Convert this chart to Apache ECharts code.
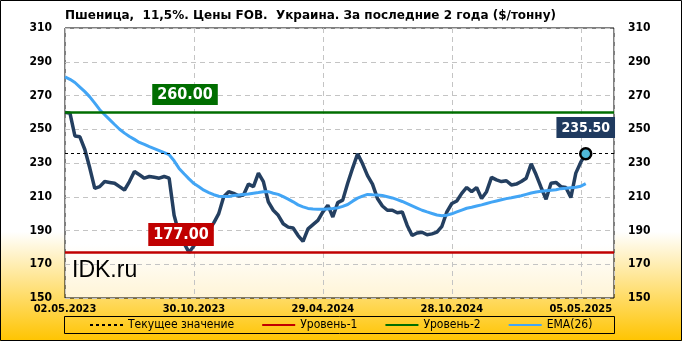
<!DOCTYPE html>
<html><head><meta charset="utf-8">
<script src="https://cdn.jsdelivr.net/npm/echarts@6/dist/echarts.min.js"></script>
<style>html,body{margin:0;padding:0;background:#fff}#c{width:682px;height:341px}</style>
</head><body><div id="c"></div>
<script>
const titleText = 'Пшеница,  11,5%. Цены FOB.  Украина. За последние 2 года ($/тонну)';
const tickLabels = ['02.05.2023','30.10.2023','29.04.2024','28.10.2024','05.05.2025'];
const tickStep = 26;
const price = [260,259.5,246,245.5,238,227,215,216,219,218.5,218,216,214,219,225,223,221,222,221.5,221,222,221,199,188,182.5,177,181,185,188,190,194.5,200,210,213,212,210.5,211,217.5,216,224,219,207,202,199,194,192,191.5,187,183.5,191,193.5,196,201,205,198,206.5,208,218,227,235.5,229.5,222.5,217.5,209,204.5,202,202,200.5,201,193,187,188.5,189,187.5,188,189,192.5,201,206,207.5,212,215.5,213,215.5,209,213,221.5,220,219,219.5,217,217.5,219,221,229.5,223,215.5,208.5,218,218.5,216,215.5,209.5,224,230.5,235.5];
const ema = [281,279.6,277.7,275,272.3,269.2,265.5,261.6,258.6,255.7,252.8,250,247.7,245.7,244,242.2,241,239.7,238.5,237.3,236.1,234.9,231.3,226.8,223.6,220.6,217.8,215.9,213.9,212.5,211.2,210.3,210.1,210.2,210.7,211,211.3,211.6,212.1,212.5,213,213,212.1,211.4,210.1,208.6,207,205.2,204,203.1,202.7,202.6,202.6,202.8,203,203.4,204.3,205.4,207.4,209.2,210.4,211.4,211.2,211.1,210.7,210,209.3,208.3,207.2,205.9,204.6,203.3,202,201,200.1,199.2,198.7,199.1,199.9,201,202.1,203.2,203.8,204.5,205.2,206,206.8,207.5,208.2,208.9,209.4,210,210.6,211.4,212.2,212.8,213.2,213.6,213.9,214.2,214.8,215,215.3,215.6,216.2,217.8];
const level1 = 177;
const level2 = 260;
const currentValue = price[price.length - 1];
const labelIdx1 = 23.4, labelIdx2 = 24.2;
const yTicks = {min:150, max:310, step:20};
const xMax = 110.7;

const FONT = 'DejaVu Sans Condensed';
const chart = echarts.init(document.getElementById('c'));
const priceData = price.map((v,i)=>[i,v]);
const emaData = ema.map((v,i)=>[i,v]);
const boxLabel = (bg, size, pad) => ({show:true,position:'inside',offset:[0,-18],formatter:p=>p.value[1].toFixed(2),color:'#fff',fontFamily:FONT,fontWeight:'bold',fontSize:size,backgroundColor:bg,padding:pad});
chart.setOption({
  animation:false,
  backgroundColor:{type:'linear',x:0,y:0,x2:0,y2:1,colorStops:[{offset:0,color:'#ffffff'},{offset:0.68,color:'#ffffff'},{offset:1,color:'#ffc400'}]},
  title:{text:titleText,left:60,top:5,textStyle:{fontFamily:'DejaVu Sans',fontWeight:'bold',fontSize:12,color:'#000'}},
  grid:{left:65,right:68,top:28,bottom:43,show:true,borderColor:'#000',borderWidth:1,
    backgroundColor:{type:'linear',x:0,y:0,x2:0,y2:1,colorStops:[{offset:0,color:'#ffffff'},{offset:0.8,color:'#ffffff'},{offset:1,color:'#fff4d6'}]}},
  legend:{left:89,top:319,itemWidth:33,itemHeight:10,itemGap:27,padding:0,
    itemStyle:{opacity:0},
    textStyle:{fontFamily:FONT,fontSize:12,color:'#000'},
    data:['Текущее значение','Уровень-1','Уровень-2','EMA(26)']},
  graphic:[
    {type:'rect',shape:{x:0.5,y:0.5,width:681,height:340},style:{fill:'none',stroke:'#000',lineWidth:1},z:100},
    {type:'rect',shape:{x:64.5,y:316.5,width:550,height:17},style:{fill:'none',stroke:'#000',lineWidth:1},z:100},
    {type:'text',left:72,top:259,style:{text:'IDK.ru',font:'23px "Liberation Sans"',fill:'#000'},z:100}
  ],
  xAxis:{type:'value',min:0,max:xMax,interval:tickStep,
    axisLine:{show:false},axisTick:{show:false},
    axisLabel:{margin:6,fontFamily:FONT,fontWeight:'bold',fontSize:11,color:'#000',showMaxLabel:false,
      formatter:v=>{const k=v/tickStep;return Number.isInteger(k)&&tickLabels[k]?tickLabels[k]:'';}},
    splitLine:{show:true,lineStyle:{type:[5,4],color:'#c4c4c4',width:1}}},
  yAxis:[
    {type:'value',min:yTicks.min,max:yTicks.max,interval:yTicks.step,position:'left',
      axisLine:{show:false},axisTick:{show:false},
      axisLabel:{margin:13,fontFamily:FONT,fontWeight:'bold',fontSize:12,color:'#000'},
      splitLine:{show:true,lineStyle:{type:[5,4],color:'#c4c4c4',width:1}}},
    {type:'value',min:yTicks.min,max:yTicks.max,interval:yTicks.step,position:'right',
      axisLine:{show:false},axisTick:{show:false},
      axisLabel:{margin:14,fontFamily:FONT,fontWeight:'bold',fontSize:12,color:'#000'},
      splitLine:{show:false}}
  ],
  series:[
    {name:'Цена',type:'line',data:priceData,symbol:'none',z:3,
      lineStyle:{color:'#243f60',width:3.5},itemStyle:{color:'#243f60'}},
    {name:'EMA(26)',type:'line',data:emaData,symbol:'none',z:4,
      lineStyle:{color:'#42a5f5',width:3},itemStyle:{color:'#42a5f5'}},
    {name:'Текущее значение',type:'line',data:[],symbol:'none',z:2,
      lineStyle:{color:'#000',width:1,type:[3,3]},itemStyle:{color:'#000'},
      markLine:{silent:true,symbol:'none',label:{show:false},lineStyle:{color:'#000',width:1,type:[3,3]},data:[{yAxis:currentValue}]}},
    {name:'Уровень-1',type:'line',data:[],symbol:'none',z:5,
      lineStyle:{color:'#c00000',width:3},itemStyle:{color:'#c00000'},
      markLine:{silent:true,symbol:'none',label:{show:false},lineStyle:{color:'#c00000',width:2.5,type:'solid'},data:[{yAxis:level1}]}},
    {name:'Уровень-2',type:'line',data:[],symbol:'none',z:5,
      lineStyle:{color:'#006e00',width:3},itemStyle:{color:'#006e00'},
      markLine:{silent:true,symbol:'none',label:{show:false},lineStyle:{color:'#006e00',width:2.5,type:'solid'},data:[{yAxis:level2}]}},
    {name:'lbl1',type:'scatter',data:[[labelIdx1,level1]],symbolSize:1,z:7,silent:true,
      itemStyle:{color:'rgba(0,0,0,0)',opacity:1},label:boxLabel('#c00000',16,[4,5,3,5])},
    {name:'lbl2',type:'scatter',data:[[labelIdx2,level2]],symbolSize:1,z:7,silent:true,
      itemStyle:{color:'rgba(0,0,0,0)',opacity:1},label:boxLabel('#006e00',16,[3,5,2,5])},
    {name:'last',type:'scatter',data:[[price.length-1,currentValue]],symbol:'circle',symbolSize:11,z:6,
      itemStyle:{color:'#4fb8d8',borderColor:'#000',borderWidth:2.5,opacity:1},
      label:{show:true,position:'top',distance:9,formatter:p=>p.value[1].toFixed(2),color:'#fff',fontFamily:FONT,fontWeight:'bold',fontSize:14,backgroundColor:'#1f3a5f',padding:[4,5,3,5]}}
  ]
});
</script></body></html>
